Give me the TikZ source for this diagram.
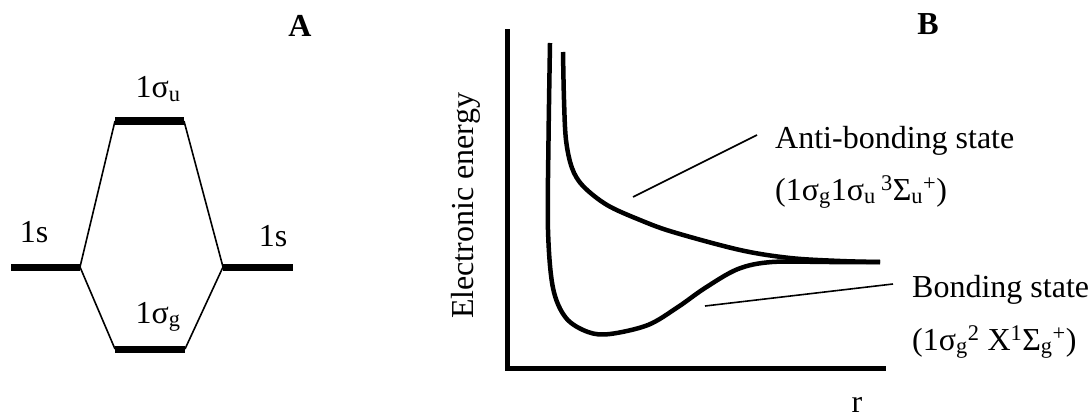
\documentclass[tikz,border=0pt]{standalone}
\usepackage{fontspec}
\setmainfont{Liberation Serif}
\usepackage{tikz}
\usetikzlibrary{positioning,calc}

\begin{document}
\begin{tikzpicture}[
    x=1pt, y=-1pt,
    every node/.style={font=\fontsize{32}{38}\selectfont, inner sep=0pt},
    level/.style={line width=7pt},
    link/.style={line width=1.6pt},
    axis/.style={line width=5pt, line cap=rect},
    pes/.style={line width=4.5pt, line cap=butt},
    pointer/.style={line width=1.6pt},
    title/.style={font=\fontsize{32}{38}\selectfont\bfseries, anchor=base},
]
\useasboundingbox (0,0) rectangle (1091,417);

% =====================================================================
% PANEL A: MO level diagram
% =====================================================================
\begin{scope}
\node[title] (tA) at (300,37) {A};

% level end points
\coordinate (sL1) at (11,267);  \coordinate (sL2) at (80,267);
\coordinate (sR1) at (223,267); \coordinate (sR2) at (293,267);
\coordinate (su1) at (115,121); \coordinate (su2) at (184,121);
\coordinate (sg1) at (115,349); \coordinate (sg2) at (185,349);

\draw[level] (sL1) -- (sL2);
\draw[level] (sR1) -- (sR2);
\draw[level] (su1) -- (su2);
\draw[level] (sg1) -- (sg2);

% correlation lines
\draw[link] (sL2) -- (su1);
\draw[link] (sL2) -- (sg1);
\draw[link] (su2) -- (sR1);
\draw[link] (sg2) -- (sR1);

\node[anchor=base] (lsL) at (34,242) {1s};
\node[anchor=base] (lsR) at (273,246) {1s};
\node[anchor=base] (lsu) at (158,98) {1σ\textsubscript{u}};
\node[anchor=base] (lsg) at (158,323) {1σ\textsubscript{g}};
\end{scope}

% =====================================================================
% PANEL B: potential energy curves
% =====================================================================
\begin{scope}
\node[title] (tB) at (928,35) {B};

\coordinate (origin) at (507,368);
\coordinate (ytop) at (507,32);
\coordinate (xend) at (883,368);
\draw[axis] (ytop) -- (origin) -- (xend);

\node[rotate=90, anchor=base] (ylab) at (473,206) {Electronic energy};
\node[anchor=base] (xlab) at (857,412) {r};

% bonding state curve
\draw[pes] plot[smooth, tension=0.55] coordinates {
    (550,43) (548.5,140) (548,230) (553,288) (566,318) (588,332)
    (610,334) (648,325) (678,307) (705,288) (738,269) (772,262)
    (830,262) (880,262)};

% anti-bonding state curve
\draw[pes] plot[smooth, tension=0.55] coordinates {
    (563,52) (564,100) (566,140) (572,168) (583,186) (607,205)
    (640,220) (673,232) (740,250) (790,258) (840,261) (880,262)};

% labels with pointers
\node[anchor=base west] (anti) at (775,148) {Anti-bonding state};
\node[anchor=base west] (antiterm) at (775,200)
    {(1σ\textsubscript{g}1σ\textsubscript{u}\,\textsuperscript{3}Σ\textsubscript{u}\textsuperscript{+})};
\coordinate (antitip) at (633,197);
\coordinate (antiend) at (757,135);
\draw[pointer] (antitip) -- (antiend);

\node[anchor=base west] (bond) at (912,297) {Bonding state};
\node[anchor=base west] (bondterm) at (912,350)
    {(1σ\textsubscript{g}\textsuperscript{2} X\textsuperscript{1}Σ\textsubscript{g}\textsuperscript{+})};
\coordinate (bondtip) at (705,306);
\coordinate (bondend) at (893,284);
\draw[pointer] (bondtip) -- (bondend);
\end{scope}

\end{tikzpicture}
\end{document}
